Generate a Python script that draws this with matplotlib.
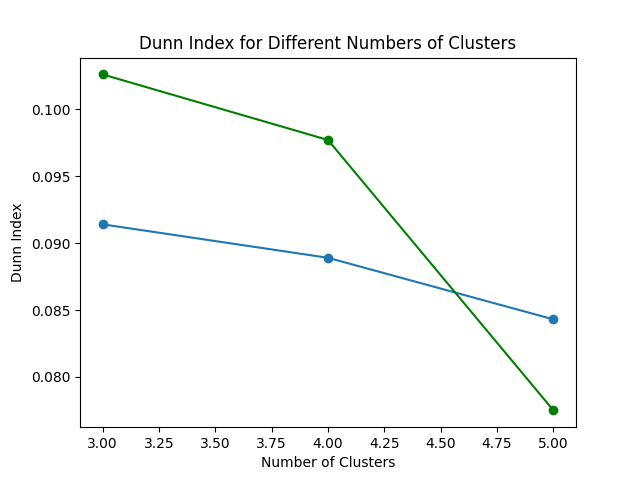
import matplotlib
matplotlib.use("Agg")
import matplotlib.pyplot as plt

clusters = [3, 4, 5]
dunn_a = [0.0914, 0.0889, 0.0843]
dunn_b = [0.1026, 0.0977, 0.0775]

fig, ax = plt.subplots(figsize=(6.4, 4.8), dpi=100)
ax.plot(clusters, dunn_a, marker='o')
ax.plot(clusters, dunn_b, marker='o', color='green')
ax.set_title('Dunn Index for Different Numbers of Clusters')
ax.set_xlabel('Number of Clusters')
ax.set_ylabel('Dunn Index')
fig.savefig('out.png')
